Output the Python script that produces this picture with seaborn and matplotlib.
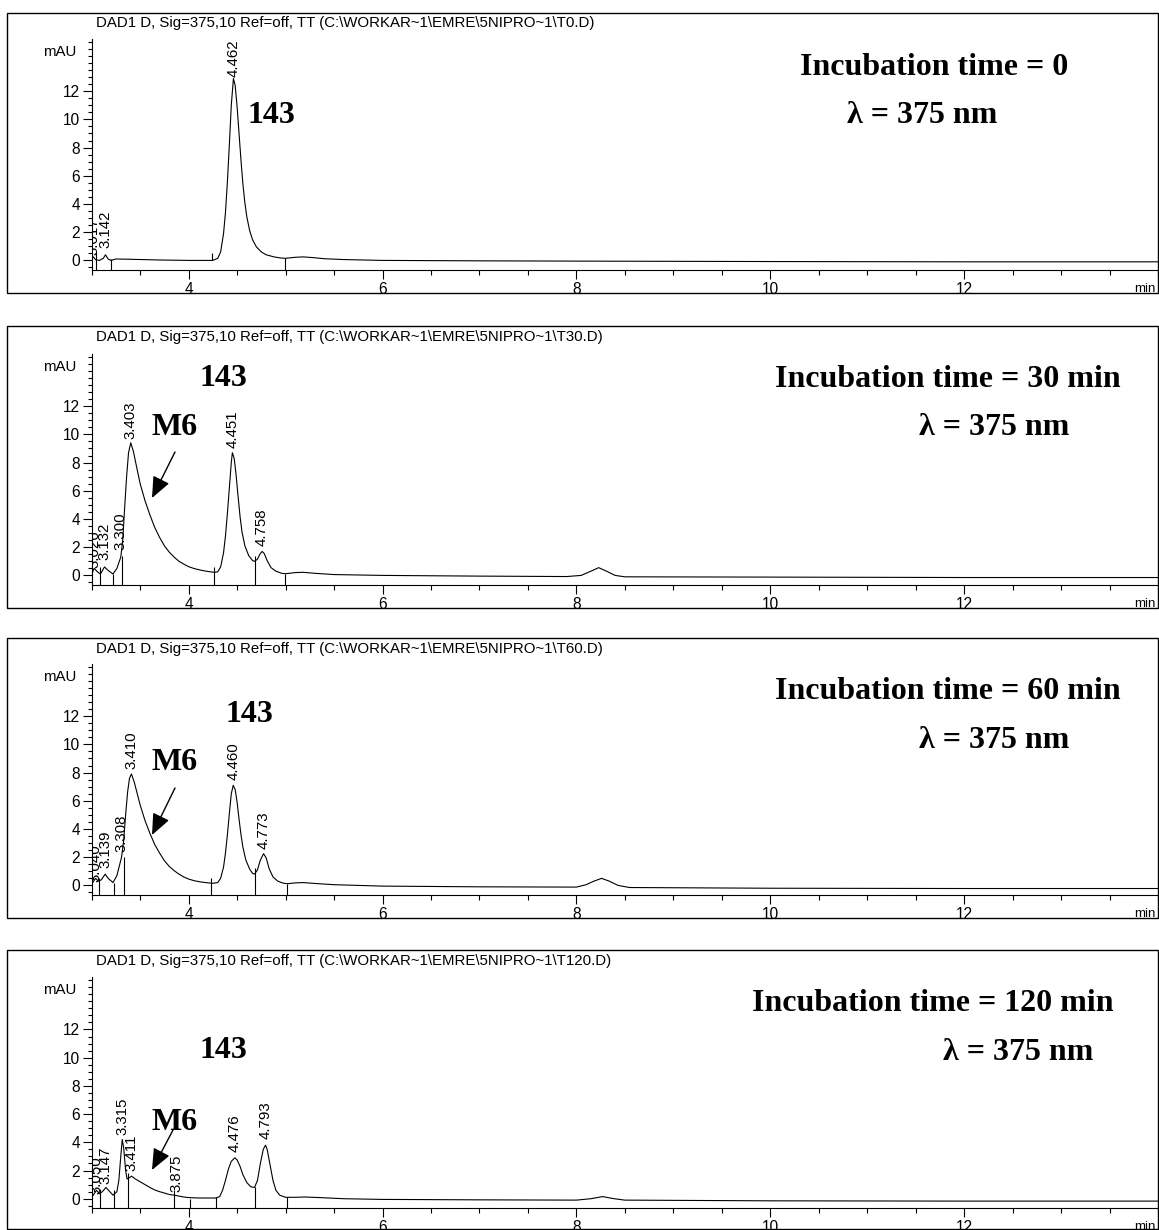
import matplotlib
matplotlib.use("Agg")
import matplotlib.pyplot as plt
import pandas as pd
import seaborn as sns
from matplotlib.patches import Rectangle, FancyArrowPatch
from matplotlib.ticker import MultipleLocator, FixedLocator

# ---------------------------------------------------------------- data
# Retention time (min) / absorbance (mAU) traces, DAD1 D at 375 nm
inc0_time = [3.00, 3.017, 3.04, 3.08, 3.12, 3.142, 3.17, 3.20, 3.25, 3.40, 3.70, 4.00,
             4.25, 4.30, 4.33, 4.36, 4.38, 4.40, 4.42, 4.44, 4.462, 4.48, 4.50, 4.52,
             4.54, 4.56, 4.58, 4.60, 4.63, 4.66, 4.70, 4.75, 4.80, 4.88, 4.95, 5.00,
             5.10, 5.18, 5.28, 5.40, 5.60, 6.00, 7.00, 8.00, 10.00, 12.00, 14.00]
inc0_signal = [0.10, 0.25, 0.05, 0.00, 0.15, 0.40, 0.10, 0.00, 0.10, 0.08, 0.03, 0.00,
               0.00, 0.15, 0.60, 1.90, 3.40, 5.60, 8.20, 11.00, 12.90, 12.40, 10.90, 9.00,
               7.10, 5.40, 4.10, 3.10, 2.10, 1.45, 0.95, 0.60, 0.40, 0.25, 0.17, 0.15,
               0.22, 0.25, 0.20, 0.12, 0.06, 0.00, -0.03, -0.05, -0.08, -0.10, -0.10]

inc30_time = [3.00, 3.026, 3.06, 3.09, 3.132, 3.17, 3.22, 3.26, 3.300, 3.32, 3.34, 3.36,
              3.38, 3.403, 3.43, 3.46, 3.50, 3.55, 3.60, 3.65, 3.70, 3.75, 3.80, 3.85,
              3.90, 3.95, 4.00, 4.06, 4.12, 4.18, 4.26, 4.30, 4.33, 4.36, 4.38, 4.40,
              4.42, 4.44, 4.451, 4.47, 4.49, 4.51, 4.53, 4.55, 4.58, 4.62, 4.66, 4.68,
              4.71, 4.735, 4.758, 4.78, 4.81, 4.85, 4.90, 4.96, 5.00, 5.10, 5.18, 5.30,
              5.50, 6.00, 7.00, 7.90, 8.05, 8.15, 8.23, 8.31, 8.40, 8.50, 10.00, 12.00, 14.00]
inc30_signal = [0.10, 0.50, 0.25, 0.10, 0.60, 0.35, 0.10, 0.50, 1.30, 2.50, 4.80, 7.00,
                8.70, 9.40, 8.80, 7.80, 6.50, 5.30, 4.30, 3.40, 2.70, 2.10, 1.65, 1.30,
                1.00, 0.80, 0.62, 0.48, 0.38, 0.30, 0.22, 0.25, 0.60, 1.60, 2.80, 4.40,
                6.20, 8.00, 8.70, 8.30, 7.10, 5.60, 4.20, 3.10, 2.10, 1.40, 1.05, 1.00,
                1.15, 1.50, 1.70, 1.55, 1.05, 0.55, 0.30, 0.15, 0.12, 0.20, 0.22, 0.15,
                0.06, 0.00, -0.05, -0.08, 0.00, 0.30, 0.55, 0.30, 0.00, -0.10, -0.12, -0.15, -0.15]

inc60_time = [3.00, 3.040, 3.07, 3.10, 3.139, 3.17, 3.22, 3.26, 3.308, 3.33, 3.35, 3.37,
              3.39, 3.410, 3.44, 3.47, 3.50, 3.55, 3.60, 3.65, 3.70, 3.75, 3.80, 3.85,
              3.90, 3.95, 4.00, 4.06, 4.12, 4.20, 4.25, 4.30, 4.33, 4.36, 4.38, 4.40,
              4.42, 4.44, 4.460, 4.48, 4.50, 4.52, 4.54, 4.56, 4.59, 4.63, 4.66, 4.68,
              4.71, 4.74, 4.773, 4.80, 4.83, 4.87, 4.92, 4.98, 5.02, 5.10, 5.18, 5.30,
              5.50, 6.00, 7.00, 8.00, 8.10, 8.18, 8.26, 8.34, 8.43, 8.55, 10.00, 12.00, 14.00]
inc60_signal = [0.10, 0.50, 0.30, 0.40, 0.80, 0.50, 0.20, 0.70, 2.00, 3.20, 5.00, 6.60,
                7.60, 7.90, 7.30, 6.50, 5.70, 4.60, 3.70, 2.90, 2.30, 1.75, 1.35, 1.05,
                0.80, 0.60, 0.45, 0.33, 0.25, 0.18, 0.15, 0.20, 0.50, 1.30, 2.30, 3.60,
                5.10, 6.50, 7.10, 6.80, 5.90, 4.70, 3.60, 2.70, 1.80, 1.15, 0.85, 0.80,
                1.10, 1.80, 2.25, 1.95, 1.20, 0.60, 0.30, 0.15, 0.12, 0.18, 0.20, 0.14,
                0.05, -0.05, -0.10, -0.12, 0.05, 0.30, 0.50, 0.30, 0.00, -0.15, -0.20, -0.22, -0.22]

inc120_time = [3.00, 3.050, 3.08, 3.11, 3.147, 3.18, 3.22, 3.26, 3.28, 3.30, 3.315, 3.33,
               3.35, 3.365, 3.38, 3.411, 3.45, 3.50, 3.55, 3.60, 3.65, 3.70, 3.75, 3.80,
               3.875, 3.95, 4.00, 4.10, 4.28, 4.32, 4.35, 4.38, 4.41, 4.44, 4.476, 4.50,
               4.53, 4.56, 4.60, 4.64, 4.68, 4.71, 4.74, 4.77, 4.793, 4.81, 4.84, 4.87,
               4.90, 4.94, 5.00, 5.10, 5.20, 5.35, 5.60, 6.00, 7.00, 8.00, 8.15, 8.27,
               8.39, 8.50, 10.00, 12.00, 14.00]
inc120_signal = [0.10, 0.60, 0.35, 0.50, 0.80, 0.55, 0.25, 0.50, 1.30, 3.00, 4.20, 3.60,
                 2.00, 1.40, 1.45, 1.60, 1.40, 1.20, 1.00, 0.80, 0.62, 0.50, 0.40, 0.30,
                 0.22, 0.12, 0.08, 0.05, 0.05, 0.15, 0.60, 1.30, 2.10, 2.65, 2.90, 2.75,
                 2.30, 1.70, 1.15, 0.85, 0.80, 1.30, 2.50, 3.50, 3.80, 3.50, 2.40, 1.30,
                 0.60, 0.25, 0.10, 0.10, 0.12, 0.08, 0.00, -0.05, -0.08, -0.10, 0.00, 0.15,
                 0.00, -0.10, -0.15, -0.17, -0.17]

# Integrated peaks: retention times and where their labels start
inc0_peak_rt = [3.017, 3.142, 4.462]
inc0_peak_label_y = [0.35, 0.90, 13.0]
inc30_peak_rt = [3.026, 3.132, 3.300, 3.403, 4.451, 4.758]
inc30_peak_label_y = [0.50, 1.10, 1.80, 9.70, 9.05, 2.10]
inc60_peak_rt = [3.040, 3.139, 3.308, 3.410, 4.460, 4.773]
inc60_peak_label_y = [0.25, 1.25, 2.40, 8.25, 7.45, 2.60]
inc120_peak_rt = [3.050, 3.147, 3.315, 3.411, 3.875, 4.476, 4.793]
inc120_peak_label_y = [0.35, 1.05, 4.50, 2.00, 0.50, 3.30, 4.20]

# Baseline event markers (start/end of integration); None = from the time axis
inc0_event_t = [3.04, 3.20, 4.24, 4.99]
inc0_event_bottom = [None, None, 0.0, None]
inc0_event_top = [0.60, 0.10, 0.50, 0.20]
inc30_event_t = [3.09, 3.22, 3.31, 4.26, 4.68, 4.99]
inc30_event_bottom = [None] * 6
inc30_event_top = [0.60, 0.12, 1.40, 0.60, 1.40, 0.12]
inc60_event_t = [3.08, 3.23, 3.33, 4.23, 4.68, 5.01]
inc60_event_bottom = [None] * 6
inc60_event_top = [0.55, 0.20, 2.00, 0.55, 1.25, 0.10]
inc120_event_t = [3.09, 3.23, 3.37, 3.85, 4.01, 4.28, 4.68, 5.01]
inc120_event_bottom = [None] * 8
inc120_event_top = [0.70, 0.60, 1.80, 0.60, 0.00, 0.10, 0.80, 0.10]

data_files = ["T0.D", "T30.D", "T60.D", "T120.D"]
incubation_labels = ["Incubation time = 0", "Incubation time = 30 min",
                     "Incubation time = 60 min", "Incubation time = 120 min"]
x_major_ticks = [4, 6, 8, 10, 12]
y_major_ticks = [0, 2, 4, 6, 8, 10, 12]

traces = [(inc0_time, inc0_signal), (inc30_time, inc30_signal),
          (inc60_time, inc60_signal), (inc120_time, inc120_signal)]
peaks = [(inc0_peak_rt, inc0_peak_label_y), (inc30_peak_rt, inc30_peak_label_y),
         (inc60_peak_rt, inc60_peak_label_y), (inc120_peak_rt, inc120_peak_label_y)]
events = [(inc0_event_t, inc0_event_bottom, inc0_event_top),
          (inc30_event_t, inc30_event_bottom, inc30_event_top),
          (inc60_event_t, inc60_event_bottom, inc60_event_top),
          (inc120_event_t, inc120_event_bottom, inc120_event_top)]

# ---------------------------------------------------------------- layout (pixels)
W, H = 1159, 1230
box_top = [12.7, 326, 638, 950]
box_bottom = [293, 608, 918, 1229]
box_left, box_right = 6.7, 1158
axis_left, axis_right = 91.7, 1158
axis_bottom = [270, 585, 895, 1208.3]
axis_height = 231
header_y = [23, 337.5, 649, 961]

incub_pos = [(800, 75), (775, 387), (775, 699), (752, 1011)]
lambda_pos = [(847, 123), (919, 435), (919, 748), (943, 1060)]
cmpd_pos = [(248, 123), (200, 386), (225, 722), (200, 1058)]
m6_pos = [None, (152, 435), (152, 770), (152, 1130)]
m6_arrow = [None, ((175, 452), (152, 498)), ((175, 788), (152, 835)),
            ((173, 1130), (152, 1170))]

YLIM = (-0.68, 15.7)
XLIM = (3.0, 14.0)


def fx(x):
    return x / W


def fy(y):
    return 1 - y / H


sns.set_style("ticks")
plt.rcParams["font.family"] = ["Liberation Sans", "DejaVu Sans"]
plt.rcParams.update({
    "axes.linewidth": 0.8,
    "axes.edgecolor": "black",
    "text.color": "black",
    "axes.labelcolor": "black",
    "xtick.color": "black",
    "ytick.color": "black",
})

fig = plt.figure(figsize=(W / 100, H / 100), dpi=100)

SANS = 10.8
TICK = 11.2
SERIF = dict(family=["Liberation Serif", "DejaVu Serif"], weight="bold", size=23,
             color="black")

for i in range(4):
    # panel frame
    fig.add_artist(Rectangle((fx(box_left), fy(box_bottom[i])),
                             (box_right - box_left) / W,
                             (box_bottom[i] - box_top[i]) / H,
                             transform=fig.transFigure, fill=False,
                             edgecolor="black", linewidth=1.0))

    ax = fig.add_axes([fx(axis_left), fy(axis_bottom[i]),
                       (axis_right - axis_left) / W, axis_height / H])
    ax.patch.set_alpha(0)

    t, s = traces[i]
    df = pd.DataFrame({"time": t, "mAU": s})
    sns.lineplot(data=df, x="time", y="mAU", ax=ax, color="black",
                 linewidth=0.8, estimator=None, sort=False, legend=False)

    ev_t, ev_bot, ev_top = events[i]
    ev_bot = [YLIM[0] if b is None else b for b in ev_bot]
    ax.vlines(ev_t, ev_bot, ev_top, color="black", linewidth=0.8)

    rts, label_y = peaks[i]
    for rt, ly in zip(rts, label_y):
        ax.text(rt, ly, f"{rt:.3f}", rotation=90, ha="center", va="bottom",
                fontsize=SANS, color="black", clip_on=True)

    ax.set_xlim(*XLIM)
    ax.set_ylim(*YLIM)
    ax.set_xlabel("")
    ax.set_ylabel("")
    ax.xaxis.set_major_locator(FixedLocator(x_major_ticks))
    ax.xaxis.set_minor_locator(MultipleLocator(0.5))
    ax.yaxis.set_major_locator(FixedLocator(y_major_ticks))
    ax.yaxis.set_minor_locator(MultipleLocator(0.5))
    ax.tick_params(axis="y", which="major", length=6.2, width=0.8, pad=2.4,
                   labelsize=TICK, direction="out", colors="black")
    ax.tick_params(axis="y", which="minor", length=3.2, width=0.8, direction="out",
                   colors="black")
    ax.tick_params(axis="x", which="major", length=6.5, width=0.8, pad=2,
                   labelsize=TICK, direction="out", colors="black")
    ax.tick_params(axis="x", which="minor", length=3.3, width=0.8, direction="out",
                   colors="black")
    sns.despine(ax=ax)
    for side in ("left", "bottom"):
        ax.spines[side].set_color("black")

    ax.annotate("mAU", xy=(0, 14.8), xycoords=("axes fraction", "data"),
                xytext=(-11, 0), textcoords="offset points",
                ha="right", va="center", fontsize=SANS, color="black")
    ax.annotate("min", xy=(1, 0), xycoords="axes fraction",
                xytext=(-9.5, -15.5), textcoords="offset points",
                ha="center", va="baseline", fontsize=9.5, color="black")

    fig.text(fx(96), fy(header_y[i]),
             "DAD1 D, Sig=375,10 Ref=off, TT (C:\\WORKAR~1\\EMRE\\5NIPRO~1\\"
             + data_files[i] + ")",
             ha="left", va="center", fontsize=SANS, color="black")

    fig.text(fx(incub_pos[i][0]), fy(incub_pos[i][1]), incubation_labels[i],
             ha="left", va="baseline", **SERIF)
    fig.text(fx(lambda_pos[i][0]), fy(lambda_pos[i][1]), "\u03bb = 375 nm",
             ha="left", va="baseline", **SERIF)
    fig.text(fx(cmpd_pos[i][0]), fy(cmpd_pos[i][1]), "143",
             ha="left", va="baseline", **SERIF)
    if m6_pos[i] is not None:
        fig.text(fx(m6_pos[i][0]), fy(m6_pos[i][1]), "M6",
                 ha="left", va="baseline", **SERIF)
        (x0, y0), (x1, y1) = m6_arrow[i]
        fig.add_artist(FancyArrowPatch((fx(x0), fy(y0)), (fx(x1), fy(y1)),
                                       transform=fig.transFigure,
                                       arrowstyle="-|>,head_length=1.3,head_width=0.55",
                                       mutation_scale=10, color="black",
                                       linewidth=1.0, shrinkA=0, shrinkB=0))

fig.savefig("out.png", dpi=100)
